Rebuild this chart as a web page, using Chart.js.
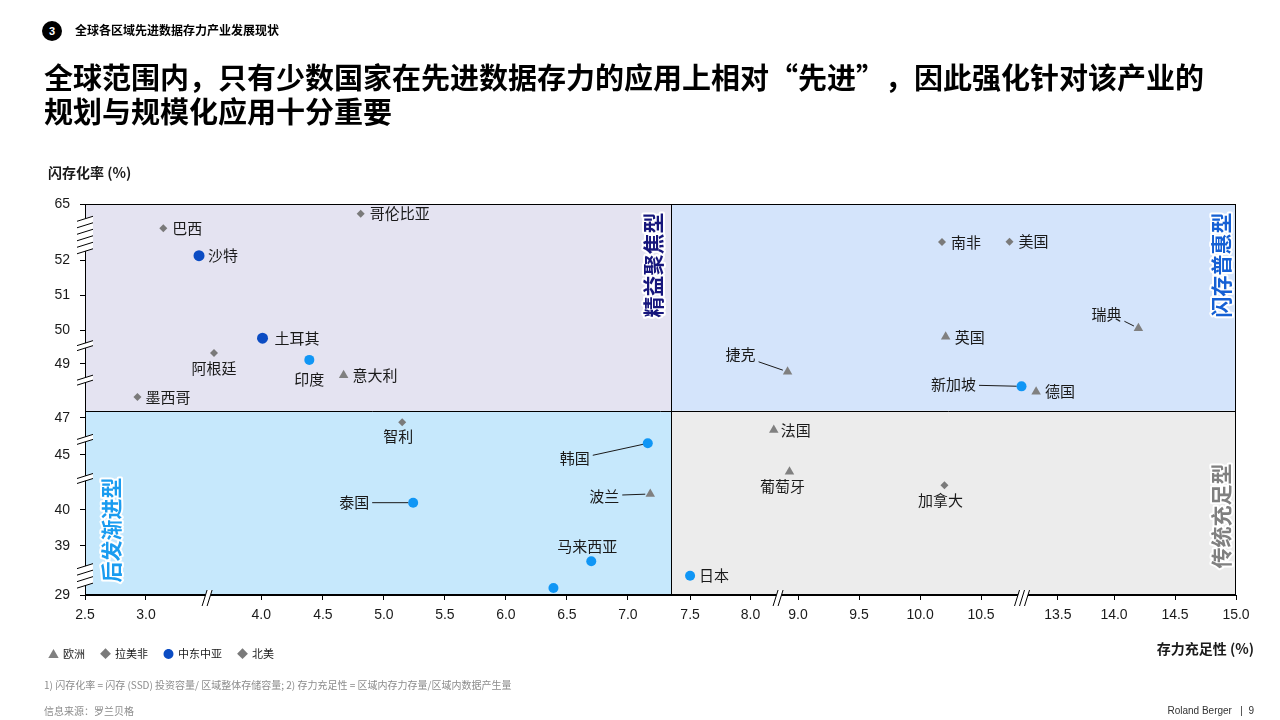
<!DOCTYPE html>
<html lang="zh-CN">
<head>
<meta charset="UTF-8">
<title>全球各区域先进数据存力产业发展现状</title>
<script src="https://cdn.jsdelivr.net/npm/chart.js"></script>
<style>
  body { margin: 0; background: #fff; font-family: "Noto Sans CJK SC", "Noto Sans", sans-serif; }
  #page { position: relative; width: 1280px; height: 720px; overflow: hidden; }
  #chart { position: absolute; left: 0; top: 0; }
  .abs { position: absolute; white-space: nowrap; }
  .num { left: 42px; top: 21px; width: 20px; height: 20px; border-radius: 50%; background: #000; color: #fff;
         font: bold 11px "Liberation Sans", sans-serif; line-height: 20px; text-align: center; }
  .section { left: 75px; top: 22px; font-size: 12px; font-weight: 700; line-height: 16px; color: #000; }
  .title { left: 44px; top: 59px; font-size: 29px; font-weight: 700; line-height: 34px; color: #000; }
  .title .fw { display: inline-block; width: 29px; text-align: center; }
  .ytitle { left: 48px; top: 162px; font-size: 14px; font-weight: 700; line-height: 20px; color: #1a1a1a; }
  .xtitle { right: 26px; top: 638px; font-size: 14px; font-weight: 700; line-height: 20px; color: #1a1a1a; }
  .legend { left: 48px; top: 645px; font-size: 11px; line-height: 16px; color: #1a1a1a; display: flex; }
  .legend span.item { margin-right: 15px; display: inline-flex; align-items: center; }
  .legend span.mk { margin-right: 4px; font-size: 11px; }
  .note { left: 44px; top: 678px; font-size: 10px; line-height: 14px; color: #8c8c8c; }
  .src { left: 44px; top: 704px; font-size: 10px; line-height: 14px; color: #8c8c8c; }
  .brand { right: 26px; top: 704px; font: 10px "Liberation Sans", sans-serif; line-height: 14px; color: #333; }
</style>
</head>
<body>
<div id="page">
  <canvas id="chart" width="1280" height="720"></canvas>
  <div class="abs num">3</div>
  <div class="abs section">全球各区域先进数据存力产业发展现状</div>
  <div class="abs title">全球范围内，只有少数国家在先进数据存力的应用上相对<span class="fw" style="text-align:right">“</span>先进<span class="fw" style="text-align:left">”</span>，因此强化针对该产业的<br>规划与规模化应用十分重要</div>
  <div class="abs ytitle">闪存化率 (%)</div>
  <div class="abs xtitle">存力充足性 (%)</div>
  <div class="abs legend" id="legend"></div>
  <div class="abs note">1) 闪存化率 = 闪存 (SSD) 投资容量/ 区域整体存储容量; 2) 存力充足性 = 区域内存力存量/区域内数据产生量</div>
  <div class="abs src">信息来源：罗兰贝格</div>
  <div class="abs brand">Roland Berger &nbsp; | &nbsp;9</div>
</div>
<script>
// axis ticks (the axes are broken, so each tick gets a slot on the scale)
const xTickValues = [2.5, 3.0, 4.0, 4.5, 5.0, 5.5, 6.0, 6.5, 7.0, 7.5, 8.0, 9.0, 9.5, 10.0, 10.5, 13.5, 14.0, 14.5, 15.0];
const xTickLabels = ['2.5', '3.0', '4.0', '4.5', '5.0', '5.5', '6.0', '6.5', '7.0', '7.5', '8.0', '9.0', '9.5', '10.0', '10.5', '13.5', '14.0', '14.5', '15.0'];
const xTickSlots  = [0, 1, 2.89, 3.9, 4.9, 5.9, 6.9, 7.9, 8.9, 9.92, 10.91, 11.69, 12.69, 13.69, 14.69, 15.95, 16.87, 17.87, 18.87];
const yTickValues = [29, 39, 40, 45, 47, 49, 50, 51, 52, 65];
const yTickLabels = ['29', '39', '40', '45', '47', '49', '50', '51', '52', '65'];
const yTickSlots  = [0, 1.4, 2.43, 4.0, 5.06, 6.6, 7.57, 8.57, 9.57, 11.17];

// where the axis break marks sit, and how many strokes each has
const xBreaks = [3.53, 8.58, 12.1];
const xBreakStrokes = [2, 2, 3];
const yBreaks = [57.8, 49.54, 48.4, 45.84, 42.86, 32.9];
const yBreakStrokes = [6, 2, 2, 2, 2, 4];

// quadrant split
const xSplit = 7.35;
const ySplit = 47.26;

// 欧洲
const euNames = ['意大利', '瑞典', '英国', '捷克', '德国', '波兰', '法国', '葡萄牙'];
const euX = [4.67, 14.2, 10.21, 8.78, 12.65, 7.18, 8.49, 8.82];
const euY = [48.58, 50.05, 49.8, 48.71, 47.97, 41.45, 46.35, 43.48];
// 拉美非
const laNames = ['巴西', '哥伦比亚', '阿根廷', '墨西哥', '智利', '南非'];
const laX = [3.15, 4.81, 3.59, 2.93, 5.15, 10.18];
const laY = [59.36, 62.75, 49.32, 47.77, 46.77, 56.2];
// 中东中亚
const meNames = ['沙特', '土耳其'];
const meX = [3.46, 4.01];
const meY = [53.0, 49.76];
// 北美
const naNames = ['美国', '加拿大'];
const naX = [11.61, 10.2];
const naY = [56.25, 42.25];
// 亚太 (not in legend)
const apNames = ['印度', '新加坡', '韩国', '泰国', '马来西亚', '日本', ''];
const apX = [4.39, 12.08, 7.16, 5.24, 6.70, 7.5, 6.39];
const apY = [49.12, 48.17, 45.63, 40.66, 35.88, 32.94, 30.43];

// label placement: r = right of point, c = centred at offset, l = offset with leader line
const labelSpots = {
  '阿根廷': ['c', 0, 15], '印度': ['c', 0, 19], '智利': ['c', -4, 14], '葡萄牙': ['c', -7, 15],
  '加拿大': ['c', -4, 15], '马来西亚': ['c', -4, -15],
  '土耳其': ['r', 12, 0], '墨西哥': ['r', 8, 0], '法国': ['r', 7, 0],
  '瑞典': ['l', -32, -14, 7], '捷克': ['l', -47, -17, 7], '新加坡': ['l', -68, -2, 1],
  '韩国': ['l', -73, 15, -3], '泰国': ['l', -59, 0, 0], '波兰': ['l', -46, 2, -1]
};

function toSlot(v, values, slots) {
  for (let i = 1; i < values.length; i++) {
    if (v <= values[i] || i === values.length - 1) {
      return slots[i-1] + (v - values[i-1]) / (values[i] - values[i-1]) * (slots[i] - slots[i-1]);
    }
  }
}
const sx = v => toSlot(v, xTickValues, xTickSlots);
const sy = v => toSlot(v, yTickValues, yTickSlots);

const groups = [
  { label: '欧洲', names: euNames, x: euX, y: euY, style: 'triangle', color: '#808080', r: 5.5, legend: '▲' },
  { label: '拉美非', names: laNames, x: laX, y: laY, style: 'rectRot', color: '#7a7a7a', r: 4, legend: '◆' },
  { label: '中东中亚', names: meNames, x: meX, y: meY, style: 'circle', color: '#0b4cc3', r: 5.5, legend: '●' },
  { label: '北美', names: naNames, x: naX, y: naY, style: 'rectRot', color: '#7a7a7a', r: 4, legend: '◆' },
  { label: '亚太', names: apNames, x: apX, y: apY, style: 'circle', color: '#1096f5', r: 5, legend: null }
];

// html legend
const legendEl = document.getElementById('legend');
groups.filter(g => g.legend).forEach(g => {
  const it = document.createElement('span');
  it.className = 'item';
  it.innerHTML = `<span class="mk" style="color:${g.color}">${g.legend}</span>${g.label}`;
  legendEl.appendChild(it);
});

const quadrants = {
  id: 'quadrants',
  beforeDraw(chart) {
    const { ctx, chartArea: a, scales } = chart;
    const xd = scales.x.getPixelForValue(sx(xSplit));
    const yd = scales.y.getPixelForValue(sy(ySplit));
    ctx.save();
    ctx.fillStyle = '#e4e3f1'; ctx.fillRect(a.left, a.top, xd - a.left, yd - a.top);
    ctx.fillStyle = '#d4e4fb'; ctx.fillRect(xd, a.top, a.right - xd, yd - a.top);
    ctx.fillStyle = '#c6e8fc'; ctx.fillRect(a.left, yd, xd - a.left, a.bottom - yd);
    ctx.fillStyle = '#ececec'; ctx.fillRect(xd, yd, a.right - xd, a.bottom - yd);
    ctx.restore();
  },
  beforeDatasetsDraw(chart) {
    const { ctx, chartArea: a, scales } = chart;
    const xd = Math.round(scales.x.getPixelForValue(sx(xSplit))) + 0.5;
    const yd = Math.round(scales.y.getPixelForValue(sy(ySplit))) + 0.5;
    ctx.save();
    ctx.strokeStyle = '#000'; ctx.lineWidth = 1;
    ctx.beginPath();
    ctx.moveTo(xd, a.top); ctx.lineTo(xd, a.bottom);
    ctx.moveTo(a.left, yd); ctx.lineTo(a.right, yd);
    ctx.stroke();
    ctx.strokeRect(a.left + 0.5, a.top + 0.5, a.right - a.left - 1, a.bottom - a.top - 1);
    const tags = [
      ['精益聚焦型', '#16167c', xd - 19, a.top + 61],
      ['闪存普惠型', '#1560d4', a.right - 16, a.top + 61],
      ['后发渐进型', '#1a9cf0', a.left + 25, a.bottom - 65],
      ['传统充足型', '#808080', a.right - 16, a.bottom - 79]
    ];
    ctx.font = 'bold 21px "Noto Sans CJK SC", sans-serif';
    ctx.textAlign = 'center'; ctx.textBaseline = 'middle';
    ctx.lineJoin = 'round';
    tags.forEach(([t, c, x, y]) => {
      ctx.save();
      ctx.translate(x, y); ctx.rotate(-Math.PI / 2);
      ctx.strokeStyle = '#fff'; ctx.lineWidth = 4; ctx.strokeText(t, 0, 1);
      ctx.fillStyle = c; ctx.fillText(t, 0, 1);
      ctx.restore();
    });
    ctx.restore();
  }
};

const pointLabels = {
  id: 'pointLabels',
  afterDatasetsDraw(chart) {
    const ctx = chart.ctx;
    ctx.save();
    ctx.font = '15px "Noto Sans CJK SC", sans-serif';
    ctx.fillStyle = '#1a1a1a'; ctx.strokeStyle = '#1a1a1a'; ctx.lineWidth = 1;
    ctx.textBaseline = 'middle';
    chart.data.datasets.forEach((ds, di) => {
      chart.getDatasetMeta(di).data.forEach((pt, i) => {
        const name = ds.names[i];
        if (!name) return;
        const spot = labelSpots[name] || ['r', 9, 0];
        if (spot[0] === 'r') {
          ctx.textAlign = 'left';
          ctx.fillText(name, pt.x + spot[1], pt.y + spot[2]);
          return;
        }
        const cx = pt.x + spot[1], cy = pt.y + spot[2];
        ctx.textAlign = 'center';
        ctx.fillText(name, cx, cy);
        if (spot[0] === 'l') {
          const w = ctx.measureText(name).width;
          const x0 = cx + w / 2 + 3, y0 = cy + spot[3];
          const dx = pt.x - x0, dy = pt.y - y0, d = Math.hypot(dx, dy);
          ctx.beginPath();
          ctx.moveTo(x0, y0);
          ctx.lineTo(pt.x - dx / d * 5, pt.y - dy / d * 5);
          ctx.stroke();
        }
      });
    });
    ctx.restore();
  }
};

const axisBreaks = {
  id: 'axisBreaks',
  afterDraw(chart) {
    const { ctx, chartArea: a, scales } = chart;
    ctx.save();
    ctx.strokeStyle = '#000'; ctx.lineWidth = 1;
    yBreaks.forEach((v, k) => {
      const n = yBreakStrokes[k], gap = n > 2 ? 6.5 : 5;
      const yc = scales.y.getPixelForValue(sy(v));
      const y0 = yc - gap * (n - 1) / 2, x = a.left;
      ctx.fillStyle = '#fff';
      ctx.beginPath();
      ctx.moveTo(x - 8, y0 + 2.5); ctx.lineTo(x + 8, y0 - 2.5);
      ctx.lineTo(x + 8, y0 + gap * (n - 1) - 2.5); ctx.lineTo(x - 8, y0 + gap * (n - 1) + 2.5);
      ctx.closePath(); ctx.fill();
      ctx.beginPath();
      for (let j = 0; j < n; j++) {
        const y = y0 + j * gap;
        ctx.moveTo(x - 8, y + 2.5); ctx.lineTo(x + 8, y - 2.5);
      }
      ctx.stroke();
    });
    xBreaks.forEach((v, k) => {
      const n = xBreakStrokes[k], gap = 5;
      const xc = scales.x.getPixelForValue(sx(v));
      const x0 = xc - gap * (n - 1) / 2, y = a.bottom + 3;
      ctx.fillStyle = '#fff';
      ctx.beginPath();
      ctx.moveTo(x0 - 2.5, y + 8); ctx.lineTo(x0 + 2.5, y - 8);
      ctx.lineTo(x0 + gap * (n - 1) + 2.5, y - 8); ctx.lineTo(x0 + gap * (n - 1) - 2.5, y + 8);
      ctx.closePath(); ctx.fill();
      ctx.beginPath();
      for (let j = 0; j < n; j++) {
        const x = x0 + j * gap;
        ctx.moveTo(x - 2.5, y + 8); ctx.lineTo(x + 2.5, y - 8);
      }
      ctx.stroke();
    });
    ctx.restore();
  }
};

const tickFont = { family: '"Liberation Sans", Arial, sans-serif', size: 14 };

new Chart(document.getElementById('chart').getContext('2d'), {
  type: 'scatter',
  data: {
    datasets: groups.map(g => ({
      label: g.label,
      names: g.names,
      data: g.x.map((v, i) => ({ x: sx(v), y: sy(g.y[i]) })),
      pointStyle: g.style,
      pointRadius: g.r,
      pointHoverRadius: g.r,
      backgroundColor: g.color,
      borderWidth: 0
    }))
  },
  options: {
    responsive: false,
    animation: false,
    layout: { padding: { left: 40, right: 44, top: 204, bottom: 95 } },
    plugins: { legend: { display: false }, tooltip: { enabled: false } },
    scales: {
      x: {
        type: 'linear', min: 0, max: xTickSlots[xTickSlots.length - 1],
        afterBuildTicks: s => { s.ticks = xTickSlots.map(v => ({ value: v })); },
        afterFit: s => { s.height = 30; },
        ticks: { autoSkip: false, maxRotation: 0, padding: 7, color: '#1a1a1a', font: tickFont,
                 callback: (v, i) => xTickLabels[i] },
        grid: { drawOnChartArea: false, tickLength: 5, color: '#000' },
        border: { color: '#000' }
      },
      y: {
        type: 'linear', min: 0, max: yTickSlots[yTickSlots.length - 1],
        afterBuildTicks: s => { s.ticks = yTickSlots.map(v => ({ value: v })); },
        afterFit: s => { s.width = 45; },
        ticks: { autoSkip: false, padding: 10, color: '#1a1a1a', font: tickFont,
                 callback: (v, i) => yTickLabels[i] },
        grid: { drawOnChartArea: false, tickLength: 5, color: '#000' },
        border: { color: '#000' }
      }
    }
  },
  plugins: [quadrants, pointLabels, axisBreaks]
});
</script>
</body>
</html>
